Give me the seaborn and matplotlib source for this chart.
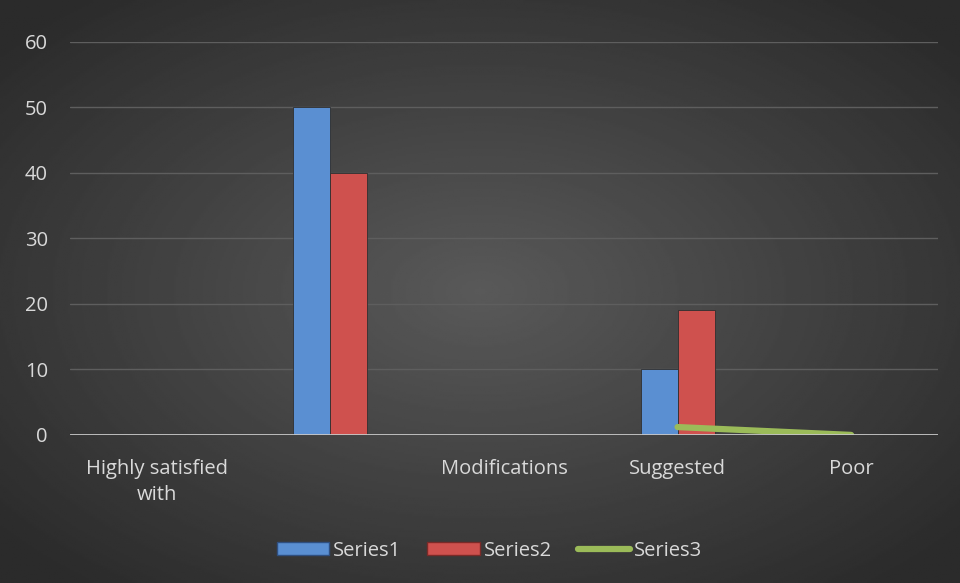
import numpy as np
import pandas as pd
import matplotlib
matplotlib.use("Agg")
import matplotlib.pyplot as plt
import seaborn as sns
from matplotlib.lines import Line2D
from matplotlib.patches import Patch

categorias = ["Highly satisfied\nwith", "", "Modifications", "Suggested", "Poor"]
series1 = [0, 50, 0, 10, 0]
series2 = [0, 40, 0, 19, 0]
series3_x = [3, 4]
series3 = [1.2, 0]

cor1 = "#5a8fd2"
cor2 = "#cf514e"
cor3 = "#9bbb59"
texto = "#d9d9d9"

df = pd.DataFrame({
    "cat": list(range(len(categorias))) * 2,
    "valor": series1 + series2,
    "serie": ["Series1"] * len(series1) + ["Series2"] * len(series2),
})

sns.set_theme(style="dark")
plt.rcParams["font.family"] = ["Open Sans", "DejaVu Sans"]

fig = plt.figure(figsize=(9.6, 5.83), dpi=100)

# fundo com gradiente radial
bg = fig.add_axes([0, 0, 1, 1], zorder=-10)
yy, xx = np.mgrid[-1:1:300j, -1:1:500j]
r = np.sqrt(xx**2 + yy**2)
bg.imshow(0.35 - 0.18 * np.clip(r / 1.3, 0, 1), cmap="gray", vmin=0, vmax=1,
          aspect="auto", extent=[0, 1, 0, 1])
bg.axis("off")

ax = fig.add_axes([0.073, 0.254, 0.904, 0.674])
ax.patch.set_alpha(0)
sns.barplot(data=df, x="cat", y="valor", hue="serie", palette=[cor1, cor2],
            width=0.426, saturation=1, ax=ax, legend=False, zorder=3)
for p in ax.patches:
    p.set_edgecolor("#2f2f2f")
    p.set_linewidth(0.6)
ax.plot(series3_x, series3, color=cor3, lw=4.5, solid_capstyle="round", zorder=4)

ax.set_xlim(-0.5, 4.5)
ax.set_ylim(0, 60)
ax.set_yticks(range(0, 61, 10))
ax.set_xticks(range(len(categorias)))
ax.set_xticklabels(categorias, fontsize=14.5, color=texto, linespacing=1.4)
ax.tick_params(axis="y", labelsize=14.5, labelcolor=texto, pad=16, length=0)
ax.tick_params(axis="x", pad=17, length=0)
ax.set_xlabel("")
ax.set_ylabel("")
ax.yaxis.grid(True, color="#5e5e5e", lw=1)
ax.xaxis.grid(False)
for s in ax.spines.values():
    s.set_visible(False)
ax.axhline(0, color="#c8c8c8", lw=2, zorder=5)

handles = [
    Patch(facecolor=cor1, edgecolor="#2f4f80", label="Series1"),
    Patch(facecolor=cor2, edgecolor="#7a2a28", label="Series2"),
    Line2D([0], [0], color=cor3, lw=4.5, solid_capstyle="round", label="Series3"),
]
leg = fig.legend(handles=handles, loc="center", bbox_to_anchor=(0.51, 0.055), ncol=3,
                 frameon=False, fontsize=14.5, handlelength=2.6, handleheight=0.6,
                 handletextpad=0.2, columnspacing=1.3)
for t in leg.get_texts():
    t.set_color(texto)

fig.savefig("out.png", dpi=100)
